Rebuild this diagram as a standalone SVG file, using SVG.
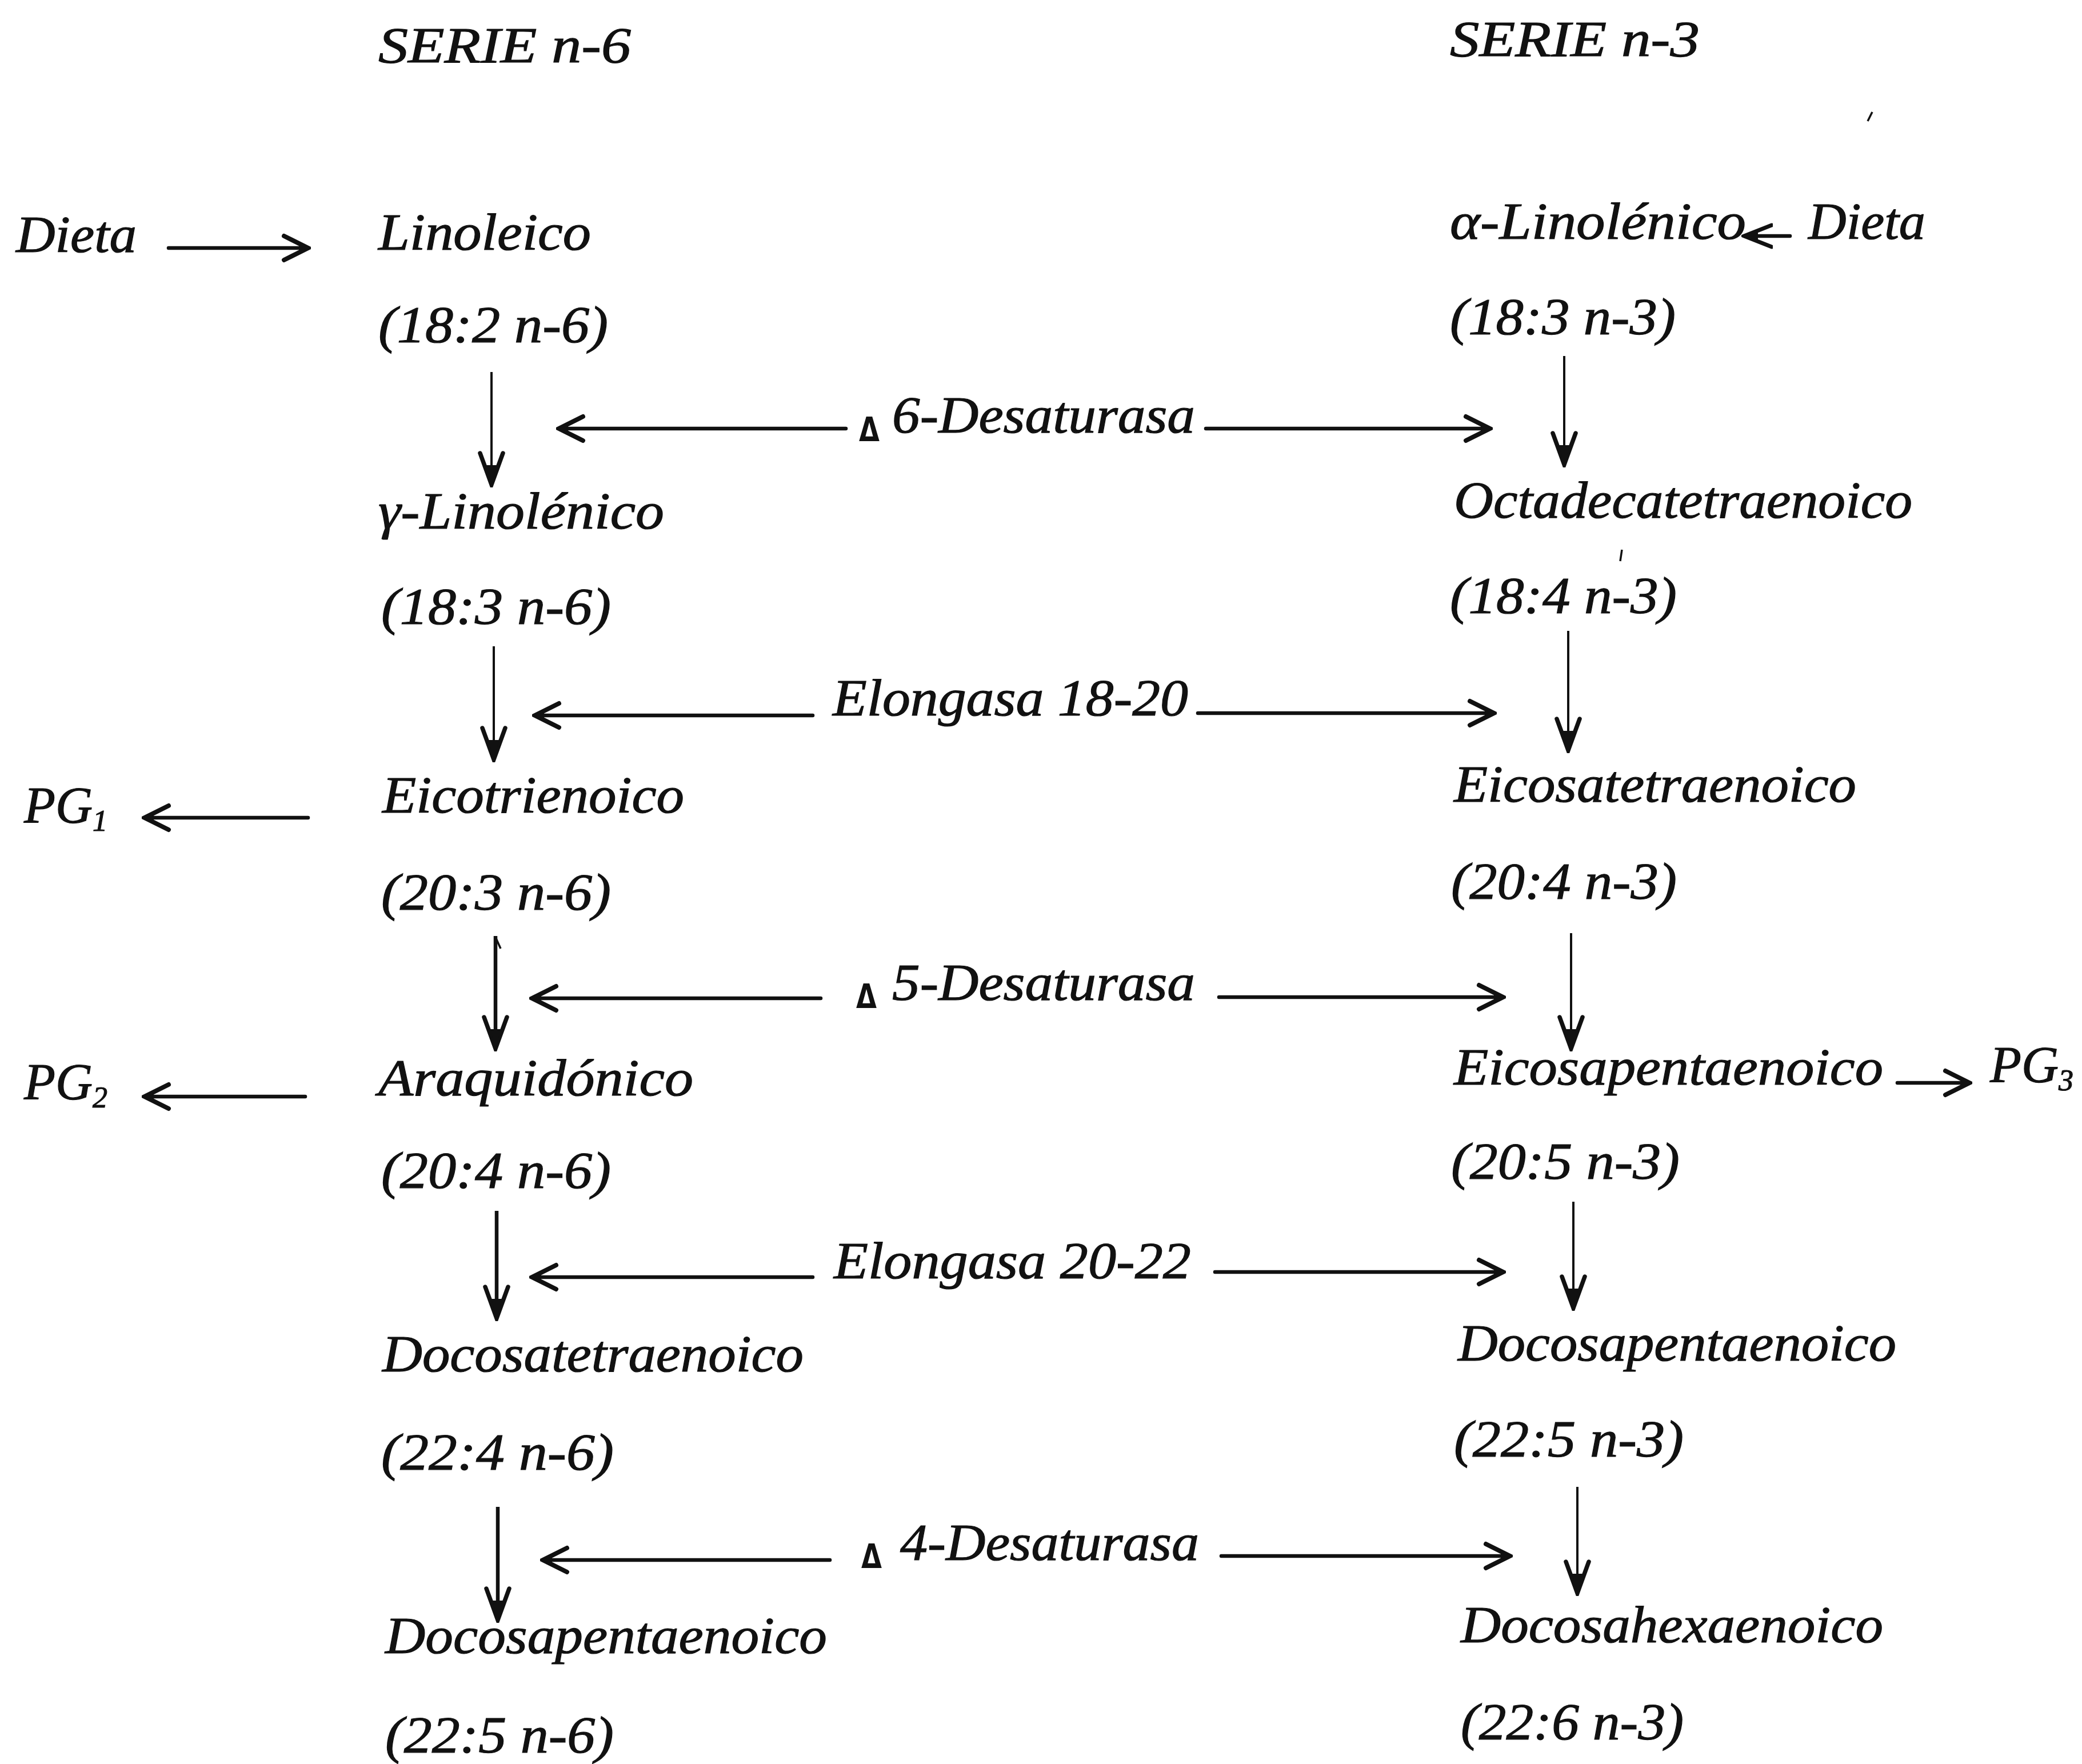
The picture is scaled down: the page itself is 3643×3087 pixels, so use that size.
<svg xmlns="http://www.w3.org/2000/svg" width="3643" height="3087" viewBox="0 0 3643 3087">
<style>
text{font-family:"Liberation Serif","Times New Roman",serif;font-style:italic;fill:#111;font-size:90px;stroke:#111;stroke-width:1.2}
.hd{font-size:88px}
.dl{font-family:"DejaVu Sans","Liberation Sans",sans-serif;font-style:normal;font-weight:bold;font-size:58px;stroke-width:0}
.sub{font-size:52px}
.h{stroke:#111;stroke-width:6.5;fill:none;stroke-linecap:round}
.v{stroke:#111;stroke-width:4;fill:none}
.vt{stroke:#111;stroke-width:6.5;fill:none}
.mk{stroke:#111;stroke-width:3.5;fill:none}
</style>
<defs>
<marker id="ah" markerUnits="userSpaceOnUse" viewBox="-55 -30 60 60" markerWidth="60" markerHeight="60" refX="0" refY="0" orient="auto">
<path d="M-42,-21 L0,0 L-42,21" stroke="#111" stroke-width="8" fill="none" stroke-linecap="round"/>
<path d="M-16,-6 L2,0 L-16,6 Z" fill="#111"/>
</marker>
<marker id="vh" markerUnits="userSpaceOnUse" viewBox="-65 -30 70 60" markerWidth="70" markerHeight="60" refX="0" refY="0" orient="auto">
<path d="M-55,-20 L0,0 L-55,20" stroke="#111" stroke-width="7.5" fill="none" stroke-linecap="round"/>
<path d="M-34,-9 L2,0 L-34,9 Z" fill="#111"/>
</marker>
<marker id="sh" markerUnits="userSpaceOnUse" viewBox="-50 -25 55 50" markerWidth="55" markerHeight="50" refX="0" refY="0" orient="auto">
<path d="M-48,-19 L0,0 L-48,19" stroke="#111" stroke-width="7" fill="none" stroke-linecap="round"/>
<path d="M-24,-8 L2,0 L-24,8 Z" fill="#111"/>
</marker>
</defs>
<rect width="3643" height="3087" fill="#fff"/>

<g id="headers">
<text id="serie-n6" class="hd" x="662" y="109" textLength="442" lengthAdjust="spacingAndGlyphs">SERIE n-6</text>
<text id="serie-n3" class="hd" x="2537" y="98" textLength="437" lengthAdjust="spacingAndGlyphs">SERIE n-3</text>
</g>

<g id="dieta-left"><text x="28" y="441" textLength="211" lengthAdjust="spacingAndGlyphs">Dieta</text></g>
<g id="dieta-right"><text x="3164" y="418" textLength="205" lengthAdjust="spacingAndGlyphs">Dieta</text></g>
<g id="pg1"><text x="42" y="1440">PG<tspan class="sub" dy="14">1</tspan></text></g>
<g id="pg2"><text x="42" y="1924">PG<tspan class="sub" dy="14">2</tspan></text></g>
<g id="pg3"><text x="3482" y="1894">PG<tspan class="sub" dy="14">3</tspan></text></g>

<g id="linoleico">
<text x="662" y="437" textLength="372" lengthAdjust="spacingAndGlyphs">Linoleico</text>
<text x="662" y="599" textLength="402" lengthAdjust="spacingAndGlyphs">(18:2 n-6)</text>
</g>
<g id="gamma-linolenico">
<text x="662" y="925" textLength="500" lengthAdjust="spacingAndGlyphs">γ-Linolénico</text>
<text x="667" y="1092" textLength="402" lengthAdjust="spacingAndGlyphs">(18:3 n-6)</text>
</g>
<g id="eicotrienoico">
<text x="669" y="1422" textLength="528" lengthAdjust="spacingAndGlyphs">Eicotrienoico</text>
<text x="667" y="1592" textLength="402" lengthAdjust="spacingAndGlyphs">(20:3 n-6)</text>
</g>
<g id="araquidonico">
<text x="662" y="1917" textLength="551" lengthAdjust="spacingAndGlyphs">Araquidónico</text>
<text x="667" y="2079" textLength="402" lengthAdjust="spacingAndGlyphs">(20:4 n-6)</text>
</g>
<g id="docosatetraenoico">
<text x="669" y="2400" textLength="737" lengthAdjust="spacingAndGlyphs">Docosatetraenoico</text>
<text x="667" y="2572" textLength="407" lengthAdjust="spacingAndGlyphs">(22:4 n-6)</text>
</g>
<g id="docosapentaenoico-n6">
<text x="674" y="2893" textLength="773" lengthAdjust="spacingAndGlyphs">Docosapentaenoico</text>
<text x="674" y="3067" textLength="400" lengthAdjust="spacingAndGlyphs">(22:5 n-6)</text>
</g>

<g id="alfa-linolenico">
<text x="2537" y="418" textLength="518" lengthAdjust="spacingAndGlyphs">α-Linolénico</text>
<text x="2537" y="585" textLength="395" lengthAdjust="spacingAndGlyphs">(18:3 n-3)</text>
</g>
<g id="octadecatetraenoico">
<text x="2544" y="906" textLength="802" lengthAdjust="spacingAndGlyphs">Octadecatetraenoico</text>
<text x="2537" y="1073" textLength="397" lengthAdjust="spacingAndGlyphs">(18:4 n-3)</text>
</g>
<g id="eicosatetraenoico">
<text x="2544" y="1403" textLength="704" lengthAdjust="spacingAndGlyphs">Eicosatetraenoico</text>
<text x="2539" y="1573" textLength="395" lengthAdjust="spacingAndGlyphs">(20:4 n-3)</text>
</g>
<g id="eicosapentaenoico">
<text x="2544" y="1898" textLength="751" lengthAdjust="spacingAndGlyphs">Eicosapentaenoico</text>
<text x="2539" y="2063" textLength="400" lengthAdjust="spacingAndGlyphs">(20:5 n-3)</text>
</g>
<g id="docosapentaenoico-n3">
<text x="2551" y="2381" textLength="767" lengthAdjust="spacingAndGlyphs">Docosapentaenoico</text>
<text x="2544" y="2549" textLength="402" lengthAdjust="spacingAndGlyphs">(22:5 n-3)</text>
</g>
<g id="docosahexaenoico">
<text x="2556" y="2874" textLength="739" lengthAdjust="spacingAndGlyphs">Docosahexaenoico</text>
<text x="2556" y="3044" textLength="390" lengthAdjust="spacingAndGlyphs">(22:6 n-3)</text>
</g>

<g id="enzymes">
<g id="delta6"><text class="dl" x="1503" y="772" textLength="36" lengthAdjust="spacingAndGlyphs">Δ</text><text x="1561" y="757" textLength="530" lengthAdjust="spacingAndGlyphs">6-Desaturasa</text></g>
<g id="elong1820"><text x="1457" y="1252" textLength="622" lengthAdjust="spacingAndGlyphs">Elongasa 18-20</text></g>
<g id="delta5"><text class="dl" x="1498" y="1764" textLength="36" lengthAdjust="spacingAndGlyphs">Δ</text><text x="1561" y="1750" textLength="530" lengthAdjust="spacingAndGlyphs">5-Desaturasa</text></g>
<g id="elong2022"><text x="1459" y="2237" textLength="625" lengthAdjust="spacingAndGlyphs">Elongasa 20-22</text></g>
<g id="delta4"><text class="dl" x="1507" y="2744" textLength="36" lengthAdjust="spacingAndGlyphs">Δ</text><text x="1575" y="2730" textLength="523" lengthAdjust="spacingAndGlyphs">4-Desaturasa</text></g>
</g>

<g id="connectors">
<!-- diet / PG arrows -->
<line class="h" x1="295" y1="434" x2="539" y2="434" marker-end="url(#ah)"/>
<line class="h" x1="3132" y1="413" x2="3052" y2="413" marker-end="url(#sh)"/>
<line class="h" x1="539" y1="1431" x2="253" y2="1431" marker-end="url(#ah)"/>
<line class="h" x1="534" y1="1919" x2="253" y2="1919" marker-end="url(#ah)"/>
<line class="h" x1="3320" y1="1895" x2="3446" y2="1895" marker-end="url(#ah)"/>
<!-- enzyme arrows -->
<line class="h" x1="1480" y1="750" x2="978" y2="750" marker-end="url(#ah)"/>
<line class="h" x1="2110" y1="750" x2="2607" y2="750" marker-end="url(#ah)"/>
<line class="h" x1="1422" y1="1252" x2="936" y2="1252" marker-end="url(#ah)"/>
<line class="h" x1="2096" y1="1248" x2="2614" y2="1248" marker-end="url(#ah)"/>
<line class="h" x1="1436" y1="1747" x2="931" y2="1747" marker-end="url(#ah)"/>
<line class="h" x1="2133" y1="1745" x2="2630" y2="1745" marker-end="url(#ah)"/>
<line class="h" x1="1422" y1="2235" x2="931" y2="2235" marker-end="url(#ah)"/>
<line class="h" x1="2126" y1="2226" x2="2630" y2="2226" marker-end="url(#ah)"/>
<line class="h" x1="1452" y1="2730" x2="950" y2="2730" marker-end="url(#ah)"/>
<line class="h" x1="2137" y1="2723" x2="2642" y2="2723" marker-end="url(#ah)"/>
<!-- vertical left -->
<line class="v" x1="860" y1="651" x2="860" y2="848" marker-end="url(#vh)"/>
<line class="v" x1="864" y1="1131" x2="864" y2="1329" marker-end="url(#vh)"/>
<line class="vt" x1="867" y1="1638" x2="867" y2="1835" marker-end="url(#vh)"/>
<line class="vt" x1="869" y1="2119" x2="869" y2="2307" marker-end="url(#vh)"/>
<line class="vt" x1="871" y1="2637" x2="871" y2="2835" marker-end="url(#vh)"/>
<!-- vertical right -->
<line class="v" x1="2737" y1="623" x2="2737" y2="813" marker-end="url(#vh)"/>
<line class="v" x1="2744" y1="1104" x2="2744" y2="1313" marker-end="url(#vh)"/>
<line class="v" x1="2749" y1="1633" x2="2749" y2="1835" marker-end="url(#vh)"/>
<line class="v" x1="2753" y1="2103" x2="2753" y2="2289" marker-end="url(#vh)"/>
<line class="v" x1="2760" y1="2602" x2="2760" y2="2788" marker-end="url(#vh)"/>
</g>

<g id="marks">
<path class="mk" d="M3276,196 L3268,212"/>
<path class="mk" d="M2838,962 L2835,982"/>
<path class="mk" d="M867,1640 L876,1660"/>
</g>
</svg>
